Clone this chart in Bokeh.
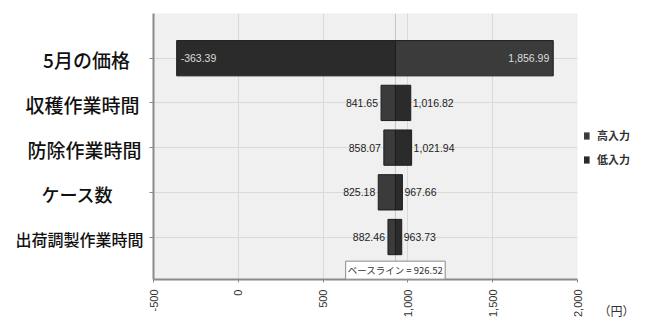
import math
from bokeh.plotting import figure
from bokeh.layouts import row
from bokeh.models import (Range1d, FixedTicker, Label, Span, Legend, LegendItem,
                          ColumnDataSource, NumeralTickFormatter, LinearAxis)
from bokeh.core.properties import value
from bokeh.embed import file_html
from bokeh.resources import INLINE

# ---- data ----
categories = ["5月の価格", "収穫作業時間", "防除作業時間", "ケース数", "出荷調製作業時間"]
high_input = [1856.99, 841.65, 858.07, 825.18, 882.46]
low_input = [-363.39, 1016.82, 1021.94, 967.66, 963.73]
baseline = 926.52
x_ticks = [-500, 0, 500, 1000, 1500, 2000]
series_names = ["高入力", "低入力"]
unit_label = "（円）"
baseline_title = "ベースライン"

# ---- layout / style ----
W, H = 648, 321
FL, FR, FT, FB = 153, 577, 13, 283
MAIN_BL, MAIN_BR = 8, 7
XMIN, XMAX = -500, 2000
YTOP, YBOT = 0.0, 5.95
NUM_FONT = "Liberation Sans"
JP_FONT = "Noto Sans CJK JP"
CAT_FONT = "Noto Sans CJK JP Medium"
cat_sizes = ["19px", "19px", "19px", "18px", "16px"]
cat_cx = [86, 82, 84, 77, 79]
high_color = "#3b3b3b"
low_color = "#2b2b2b"

rows = list(range(1, len(categories) + 1))
y_range = Range1d(YBOT, YTOP)
px_per_unit = (FR - FL) / (XMAX - XMIN)

# ---------------- main chart ----------------
p = figure(width=MAIN_BL + (FR - FL) + MAIN_BR, height=H,
           x_range=Range1d(XMIN, XMAX), y_range=y_range,
           output_backend="svg", toolbar_location=None,
           min_border_left=MAIN_BL, min_border_right=MAIN_BR, min_border_top=FT,
           min_border_bottom=H - FB)
p.background_fill_color = "#f0f0f0"
p.border_fill_color = "white"
p.outline_line_color = None

p.xgrid.ticker = FixedTicker(ticks=x_ticks)
p.ygrid.ticker = FixedTicker(ticks=rows)
p.xgrid.grid_line_color = "#d9d9d9"
p.ygrid.grid_line_color = "#d9d9d9"

p.xaxis.ticker = FixedTicker(ticks=x_ticks)
p.xaxis.formatter = NumeralTickFormatter(format="0,0")
p.xaxis.major_label_orientation = math.pi / 2
p.xaxis.major_label_text_font = NUM_FONT
p.xaxis.major_label_text_font_size = "11px"
p.xaxis.major_label_text_color = "#333333"
p.xaxis.major_label_standoff = 7
p.xaxis.major_tick_out = 3
p.xaxis.major_tick_in = 0
p.xaxis.minor_tick_line_color = None
p.xaxis.axis_line_color = "#8a8a8a"
p.xaxis.axis_line_width = 2
p.xaxis.major_tick_line_color = "#8a8a8a"

p.yaxis.ticker = FixedTicker(ticks=rows)
p.yaxis.major_label_overrides = {r: "" for r in rows}
p.yaxis.major_label_standoff = 0
p.yaxis.major_tick_out = 4
p.yaxis.major_tick_in = 0
p.yaxis.minor_tick_line_color = None
p.yaxis.axis_line_color = "#8a8a8a"
p.yaxis.axis_line_width = 2
p.yaxis.major_tick_line_color = "#8a8a8a"

p.add_layout(Span(location=baseline, dimension="height", line_color="#c4c4c4",
                  line_width=1, level="underlay"))

bar_h = 0.79
hs = ColumnDataSource(dict(y=rows, left=[min(baseline, v) for v in high_input],
                           right=[max(baseline, v) for v in high_input]))
ls = ColumnDataSource(dict(y=rows, left=[min(baseline, v) for v in low_input],
                           right=[max(baseline, v) for v in low_input]))
p.hbar(y="y", left="left", right="right", height=bar_h, source=hs,
       fill_color=high_color, line_color="#1e1e1e", line_width=1)
p.hbar(y="y", left="left", right="right", height=bar_h, source=ls,
       fill_color=low_color, line_color="#1e1e1e", line_width=1)

lx, ly, lt, la, lo, lc = [], [], [], [], [], []
for r, h, l in zip(rows, high_input, low_input):
    lo_v, hi_v = min(h, l), max(h, l)
    inside = (hi_v - lo_v) > 1000
    for v, side in ((lo_v, "L"), (hi_v, "R")):
        lx.append(v)
        ly.append(r)
        lt.append(f"{v:,.2f}")
        if inside:
            la.append("left" if side == "L" else "right")
            lo.append(4 if side == "L" else -4)
            lc.append("#dcdcdc")
        else:
            la.append("right" if side == "L" else "left")
            lo.append(-3 if side == "L" else 2)
            lc.append("#222222")
vs = ColumnDataSource(dict(x=lx, y=ly, text=lt, align=la, off=lo, color=lc))
p.text(x="x", y="y", text="text", source=vs, text_align="align", x_offset="off",
       text_color="color", text_baseline="middle", text_font=value(NUM_FONT),
       text_font_size="10.5px")

box_y = YTOP + (273.5 - FT) * (YBOT - YTOP) / (FB - FT)
p.add_layout(Label(x=baseline, y=box_y, text=f"{baseline_title} = {baseline:,.2f}",
                   text_align="center", text_baseline="middle", text_font=JP_FONT,
                   text_font_size="9.5px", text_color="#333333",
                   background_fill_color="white", border_line_color="#8a8a8a",
                   border_line_width=1, padding=2))

# ---------------- category label column ----------------
LW = FL - MAIN_BL
lf = figure(width=LW, height=H, x_range=Range1d(0, LW), y_range=y_range,
            output_backend="svg", toolbar_location=None,
            x_axis_type=None, y_axis_type=None,
            min_border_left=0, min_border_right=0, min_border_top=FT,
            min_border_bottom=H - FB)
lf.outline_line_color = None
lf.grid.visible = False
lf.background_fill_color = "white"
lf.border_fill_color = "white"
cs = ColumnDataSource(dict(x=cat_cx, y=[r + 0.04 for r in rows],
                           text=categories, size=cat_sizes))
lf.text(x="x", y="y", text="text", source=cs, text_align="center",
        text_baseline="middle", text_font=value(CAT_FONT), text_font_size="size",
        text_color="#111111")

# ---------------- legend / unit column (continues the x scale) ----------------
RX0 = FR + MAIN_BR
RW = W - RX0
rx_start = XMAX + MAIN_BR / px_per_unit
rx_end = rx_start + RW / px_per_unit
rf = figure(width=RW, height=H, x_range=Range1d(rx_start, rx_end), y_range=y_range,
            output_backend="svg", toolbar_location=None,
            x_axis_type=None, y_axis_type=None,
            min_border_left=0, min_border_right=0, min_border_top=FT,
            min_border_bottom=H - FB)
rf.outline_line_color = None
rf.grid.visible = False
rf.background_fill_color = "white"
rf.border_fill_color = "white"
e1 = rf.hbar(y="y", left="left", right="right", height=bar_h, source=hs,
             fill_color=high_color, line_color=None, visible=False)
e2 = rf.hbar(y="y", left="left", right="right", height=bar_h, source=ls,
             fill_color=low_color, line_color=None, visible=False)
legend = Legend(items=[LegendItem(label=series_names[0], renderers=[e1]),
                       LegendItem(label=series_names[1], renderers=[e2])],
                location=(-3, 112), orientation="vertical",
                glyph_width=9, glyph_height=9, label_height=12, spacing=8,
                padding=0, margin=0, label_standoff=7,
                label_text_font=JP_FONT, label_text_font_size="11px",
                label_text_font_style="bold", label_text_color="#333333",
                background_fill_alpha=0, border_line_color=None,
                inactive_fill_alpha=0)
rf.add_layout(legend)

unit_axis = LinearAxis(axis_label=unit_label, ticker=FixedTicker(ticks=[]),
                       axis_line_color=None, major_tick_line_color=None,
                       minor_tick_line_color=None, major_label_text_font_size="0px",
                       axis_label_standoff=22, axis_label_text_font=JP_FONT,
                       axis_label_text_font_size="12px",
                       axis_label_text_font_style="normal",
                       axis_label_text_color="#333333")
rf.add_layout(unit_axis, "below")

layout = row(lf, p, rf, spacing=0)
open("out.html", "w").write(file_html(layout, INLINE))
